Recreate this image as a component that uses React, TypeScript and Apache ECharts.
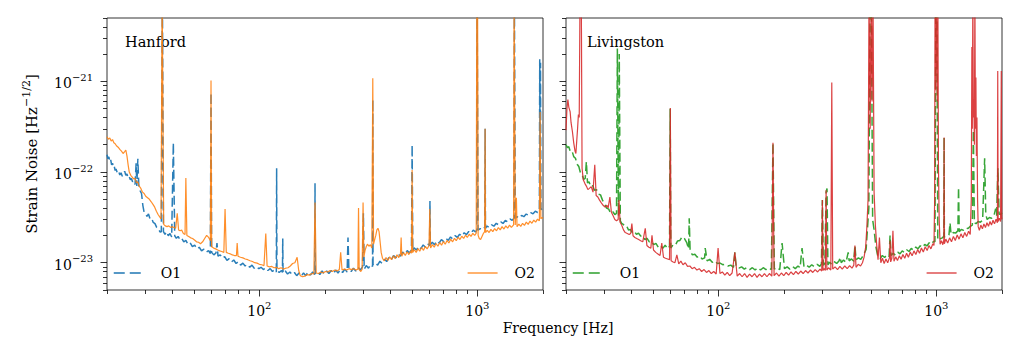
import React, { useEffect, useRef } from "react";
import * as echarts from "echarts";

// Amplitude spectral density [frequency (Hz), strain (1/sqrt(Hz))]
const hanfordO1: [number, number][] = [
  [20.0, 1.55e-22], [20.2, 1.4e-22], [20.4, 1.47e-22], [20.6, 1.3e-22], [20.8, 1.36e-22], [21.0, 1.2e-22],
  [21.2, 1.25e-22], [21.4, 1.12e-22], [21.6, 1.15e-22], [21.8, 1.04e-22], [22.0, 1.08e-22], [22.3, 9.8e-23],
  [22.6, 1.02e-22], [22.9, 9.3e-23], [23.2, 9.8e-23], [23.5, 9.0e-23], [23.8, 9.6e-23], [24.1, 1.02e-22],
  [24.4, 9.2e-23], [24.7, 9.5e-23], [25.0, 8.6e-23], [25.3, 8.9e-23], [25.6, 8.2e-23], [25.9, 8.5e-23],
  [26.2, 7.8e-23], [26.5, 8.0e-23], [26.9, 7.3e-23], [27.2, 1.25e-22], [27.4, 7.0e-23], [27.7, 1.4e-22],
  [28.0, 6.8e-23], [28.4, 6.2e-23], [28.8, 5.8e-23], [29.2, 4.3e-23], [29.6, 3.6e-23], [30.0, 3.5e-23],
  [30.5, 3.25e-23], [31.0, 3.45e-23], [31.5, 3.05e-23], [32.0, 3.1e-23], [32.6, 2.78e-23], [33.2, 2.7e-23],
  [33.8, 2.45e-23], [34.4, 2.4e-23], [35.0, 2.18e-23], [35.5, 2.2e-23], [35.9, 1e-20], [36.3, 2.2e-23],
  [36.9, 2.05e-23], [37.5, 2.2e-23], [38.2, 1.98e-23], [38.9, 2.1e-23], [39.6, 1.92e-23], [40.3, 2.1e-22],
  [40.9, 1.98e-23], [41.6, 1.86e-23], [42.4, 1.95e-23], [43.2, 1.8e-23], [44.0, 1.86e-23], [45.0, 1.7e-23],
  [46.0, 1.76e-23], [47.0, 1.6e-23], [48.1, 1.66e-23], [49.3, 1.5e-23], [50.5, 1.56e-23], [51.8, 1.42e-23],
  [53.0, 1.48e-23], [54.3, 1.35e-23], [55.6, 1.41e-23], [57.0, 1.3e-23], [58.4, 1.36e-23], [59.6, 1.26e-23],
  [60.0, 7.5e-22], [60.4, 1.3e-23], [61.8, 1.22e-23], [63.2, 1.28e-23], [63.9, 1.65e-23], [64.6, 1.18e-23],
  [66.1, 1.22e-23], [67.7, 1.12e-23], [69.3, 1.17e-23], [71.0, 1.06e-23], [72.7, 1.11e-23], [74.5, 1.02e-23],
  [76.3, 1.07e-23], [78.2, 9.8e-24], [80.1, 1.03e-23], [82.0, 9.4e-24], [84.0, 9.9e-24], [86.0, 9.2e-24],
  [88.1, 9.6e-24], [90.3, 8.9e-24], [92.5, 9.4e-24], [94.7, 8.7e-24], [97.0, 9.1e-24], [99.4, 8.6e-24],
  [101.8, 8.9e-24], [104.3, 8.4e-24], [106.8, 8.8e-24], [109.4, 8.2e-24], [112.1, 8.6e-24], [114.8, 8.0e-24],
  [117.6, 8.4e-24], [119.6, 7.9e-24], [120.0, 1.1e-22], [120.4, 8.1e-24], [123.3, 7.8e-24], [126.3, 8.2e-24],
  [127.6, 7.8e-24], [128.0, 1.85e-23], [128.4, 7.7e-24], [131.5, 8.1e-24], [134.7, 7.5e-24], [138.0, 7.9e-24],
  [141.4, 7.4e-24], [144.8, 7.8e-24], [148.3, 7.2e-24], [151.9, 7.7e-24], [155.6, 7.1e-24], [159.4, 7.7e-24],
  [163.3, 7.2e-24], [167.3, 7.9e-24], [171.4, 7.3e-24], [175.6, 7.9e-24], [179.6, 7.4e-24], [180.0, 7.5e-23],
  [180.4, 7.6e-24], [184.8, 8.0e-24], [189.3, 7.4e-24], [193.9, 8.1e-24], [198.6, 7.5e-24], [203.5, 8.1e-24],
  [208.4, 7.6e-24], [213.5, 8.2e-24], [218.7, 7.6e-24], [224.0, 8.3e-24], [229.5, 7.7e-24], [235.1, 8.4e-24],
  [240.8, 7.8e-24], [246.7, 8.5e-24], [252.7, 7.9e-24], [255.0, 1.9e-23], [257.4, 8.4e-24], [263.7, 8.0e-24],
  [270.1, 8.7e-24], [276.7, 8.1e-24], [283.4, 8.9e-24], [290.3, 8.3e-24], [297.4, 9.0e-24], [300.0, 3.5e-23],
  [302.6, 8.5e-24], [309.2, 9.3e-24], [316.7, 8.7e-24], [324.4, 9.6e-24], [330.5, 9.1e-24], [331.3, 6.3e-22],
  [332.2, 9.5e-24], [340.4, 1.0e-23], [348.7, 9.4e-24], [357.2, 1.04e-23], [365.9, 9.8e-24], [374.8, 1.09e-23],
  [383.9, 1.03e-23], [393.3, 1.15e-23], [402.8, 1.08e-23], [412.6, 1.2e-23], [422.7, 1.13e-23], [433.0, 1.25e-23],
  [443.5, 1.18e-23], [454.3, 1.31e-23], [465.4, 1.23e-23], [476.7, 1.36e-23], [488.3, 1.28e-23], [498.5, 1.38e-23],
  [502.0, 2.0e-22], [505.5, 1.34e-23], [512.4, 1.46e-23], [524.9, 1.38e-23], [537.6, 1.52e-23], [550.7, 1.43e-23],
  [564.1, 1.57e-23], [577.9, 1.48e-23], [591.9, 1.62e-23], [603.5, 1.54e-23], [606.0, 4.8e-23], [608.5, 1.58e-23],
  [621.1, 1.68e-23], [636.2, 1.58e-23], [651.7, 1.74e-23], [667.6, 1.65e-23], [683.8, 1.8e-23], [700.5, 1.71e-23],
  [717.5, 1.86e-23], [735.0, 1.76e-23], [752.9, 1.92e-23], [771.2, 1.83e-23], [790.0, 1.99e-23], [809.2, 1.9e-23],
  [828.9, 2.06e-23], [849.1, 1.96e-23], [869.8, 2.14e-23], [891.0, 2.04e-23], [912.7, 2.21e-23], [934.9, 2.11e-23],
  [957.6, 2.29e-23], [980.9, 2.18e-23], [994.0, 2.3e-23], [997.0, 1e-20], [1003.0, 1e-20], [1007.0, 2.28e-23],
  [1030.0, 2.38e-23], [1055.0, 2.3e-23], [1082.0, 2.46e-23], [1085.5, 3.0e-22], [1089.0, 2.4e-23], [1108.0, 2.54e-23],
  [1135.0, 2.44e-23], [1163.0, 2.62e-23], [1191.0, 2.53e-23], [1220.0, 2.72e-23], [1250.0, 2.62e-23], [1280.0, 2.82e-23],
  [1311.0, 2.71e-23], [1343.0, 2.92e-23], [1376.0, 2.82e-23], [1410.0, 3.04e-23], [1444.0, 2.93e-23], [1472.0, 3.1e-23],
  [1478.0, 1e-20], [1486.0, 1e-20], [1492.0, 3.1e-23], [1520.0, 3.22e-23], [1557.0, 3.1e-23], [1595.0, 3.32e-23],
  [1634.0, 3.22e-23], [1674.0, 3.44e-23], [1715.0, 3.34e-23], [1757.0, 3.57e-23], [1800.0, 3.46e-23], [1844.0, 3.7e-23],
  [1889.0, 3.58e-23], [1925.0, 3.8e-23], [1932.0, 1.75e-21], [1940.0, 3.9e-23], [1948.0, 1.6e-21], [1956.0, 3.85e-23],
  [1978.0, 3.95e-23], [2000.0, 4.0e-23],
];

const hanfordO2: [number, number][] = [
  [20.0, 2.45e-22], [20.3, 2.3e-22], [20.6, 2.38e-22], [20.9, 2.2e-22], [21.2, 2.28e-22], [21.5, 2.1e-22],
  [21.8, 2.05e-22], [22.1, 1.95e-22], [22.5, 1.88e-22], [22.9, 1.78e-22], [23.3, 1.7e-22], [23.7, 1.6e-22],
  [24.1, 1.68e-22], [24.4, 1.75e-22], [24.7, 1.5e-22], [25.0, 1.2e-22], [25.3, 1.0e-22], [25.7, 9.2e-23],
  [26.1, 8.8e-23], [26.5, 8.4e-23], [26.9, 8.5e-23], [27.3, 7.6e-23], [27.7, 7.8e-23], [28.1, 7.0e-23],
  [28.6, 6.6e-23], [29.1, 6.0e-23], [29.6, 5.8e-23], [30.1, 5.4e-23], [30.7, 5.2e-23], [31.3, 5.0e-23],
  [31.9, 4.7e-23], [32.5, 4.4e-23], [33.1, 4.1e-23], [33.7, 3.7e-23], [34.3, 3.4e-23], [34.9, 3.2e-23],
  [35.4, 3.05e-23], [35.8, 1e-20], [36.0, 1e-20], [36.4, 2.65e-23], [37.0, 2.55e-23], [37.7, 2.5e-23],
  [38.4, 2.55e-23], [39.1, 2.45e-23], [39.8, 2.5e-23], [40.5, 2.45e-23], [41.3, 2.4e-23], [42.0, 3.5e-23],
  [42.6, 2.3e-23], [43.3, 2.25e-23], [44.0, 2.3e-23], [44.8, 2.1e-23], [45.6, 2.05e-23], [46.0, 8.6e-23],
  [46.5, 2.0e-23], [47.4, 1.95e-23], [48.4, 1.88e-23], [49.4, 1.85e-23], [50.4, 1.78e-23], [51.5, 1.7e-23],
  [52.6, 1.68e-23], [53.7, 1.62e-23], [54.9, 1.7e-23], [56.1, 1.85e-23], [57.3, 2.0e-23], [58.5, 1.9e-23],
  [59.6, 1.75e-23], [60.0, 1.02e-21], [60.4, 1.5e-23], [61.7, 1.45e-23], [63.0, 1.42e-23], [64.4, 1.38e-23],
  [65.8, 1.35e-23], [67.2, 1.33e-23], [68.7, 1.3e-23], [69.6, 3.9e-23], [70.5, 1.3e-23], [72.0, 1.27e-23],
  [73.6, 1.25e-23], [75.2, 1.22e-23], [76.8, 1.2e-23], [78.5, 1.2e-23], [79.1, 1.65e-23], [79.8, 1.18e-23],
  [81.9, 1.15e-23], [84.0, 1.13e-23], [86.2, 1.1e-23], [88.4, 1.08e-23], [90.6, 1.05e-23], [92.9, 1.03e-23],
  [95.2, 1.0e-23], [97.6, 9.9e-24], [100.0, 9.6e-24], [102.5, 9.5e-24], [105.0, 9.3e-24], [107.0, 2.1e-23],
  [108.5, 9.2e-24], [111.2, 9.0e-24], [114.0, 9.1e-24], [116.8, 8.8e-24], [119.7, 8.9e-24], [122.7, 8.6e-24],
  [125.7, 8.8e-24], [128.8, 8.5e-24], [132.0, 8.7e-24], [135.3, 8.8e-24], [138.6, 9.2e-24], [142.0, 9.8e-24],
  [145.5, 1.0e-23], [149.0, 1.15e-23], [151.5, 8.2e-24], [154.0, 7.2e-24], [157.8, 7.0e-24], [161.7, 7.1e-24],
  [165.7, 7.4e-24], [169.8, 7.3e-24], [174.0, 7.6e-24], [177.8, 7.5e-24], [180.0, 4.6e-23], [182.2, 7.7e-24],
  [186.7, 7.6e-24], [191.3, 7.9e-24], [196.0, 7.7e-24], [200.9, 8.0e-24], [205.9, 7.9e-24], [211.0, 8.2e-24],
  [216.2, 8.0e-24], [221.6, 8.3e-24], [227.1, 8.1e-24], [232.7, 8.4e-24], [236.0, 1.3e-23], [239.5, 8.3e-24],
  [245.5, 8.5e-24], [251.6, 8.3e-24], [257.8, 8.6e-24], [264.2, 8.4e-24], [270.7, 8.6e-24], [277.4, 8.3e-24],
  [283.0, 8.5e-24], [285.0, 4.0e-23], [287.0, 8.4e-24], [292.0, 8.0e-24], [296.0, 8.5e-24], [299.0, 4.6e-23],
  [301.5, 1.15e-23], [305.0, 1.35e-23], [309.0, 1.5e-23], [313.0, 1.6e-23], [318.0, 1.52e-23], [323.0, 1.58e-23],
  [328.0, 1.45e-23], [331.3, 1.08e-21], [334.0, 1.6e-23], [338.0, 1.8e-23], [342.0, 2.0e-23], [346.0, 2.3e-23],
  [350.0, 2.4e-23], [354.0, 2.2e-23], [358.0, 1.7e-23], [362.0, 1.3e-23], [367.0, 1.12e-23], [374.0, 1.05e-23],
  [381.0, 1.14e-23], [388.0, 1.06e-23], [396.0, 1.16e-23], [404.0, 1.08e-23], [412.0, 1.19e-23], [420.0, 1.11e-23],
  [428.0, 1.22e-23], [436.0, 1.14e-23], [444.0, 1.26e-23], [447.0, 1.9e-23], [450.0, 1.18e-23], [458.0, 1.29e-23],
  [467.0, 1.2e-23], [476.0, 1.32e-23], [485.0, 1.23e-23], [494.0, 1.35e-23], [499.0, 1.27e-23], [502.0, 1.05e-22],
  [505.0, 1.3e-23], [514.0, 1.39e-23], [524.0, 1.3e-23], [534.0, 1.43e-23], [544.0, 1.34e-23], [555.0, 1.47e-23],
  [566.0, 1.37e-23], [577.0, 1.51e-23], [588.0, 1.42e-23], [600.0, 1.54e-23], [605.0, 3.9e-23], [610.0, 1.45e-23],
  [622.0, 1.58e-23], [634.0, 1.48e-23], [646.0, 1.63e-23], [659.0, 1.52e-23], [672.0, 1.67e-23], [685.0, 1.56e-23],
  [698.0, 1.71e-23], [712.0, 1.6e-23], [726.0, 1.76e-23], [740.0, 1.65e-23], [755.0, 1.81e-23], [770.0, 1.7e-23],
  [785.0, 1.86e-23], [800.0, 1.75e-23], [816.0, 1.91e-23], [832.0, 1.8e-23], [848.0, 1.96e-23], [865.0, 1.85e-23],
  [882.0, 2.01e-23], [899.0, 1.9e-23], [917.0, 2.06e-23], [935.0, 1.95e-23], [953.0, 2.11e-23], [972.0, 2.0e-23],
  [988.0, 2.12e-23], [994.0, 1e-20], [1002.0, 1e-20], [1008.0, 2.0e-23], [1020.0, 1.85e-23], [1035.0, 1.8e-23],
  [1050.0, 1.95e-23], [1065.0, 2.1e-23], [1080.0, 2.2e-23], [1085.0, 3.0e-22], [1090.0, 2.15e-23], [1110.0, 2.28e-23],
  [1132.0, 2.15e-23], [1154.0, 2.33e-23], [1177.0, 2.2e-23], [1200.0, 2.38e-23], [1224.0, 2.25e-23], [1248.0, 2.44e-23],
  [1273.0, 2.3e-23], [1298.0, 2.5e-23], [1324.0, 2.35e-23], [1350.0, 2.55e-23], [1377.0, 2.4e-23], [1404.0, 2.6e-23],
  [1432.0, 2.45e-23], [1466.0, 2.62e-23], [1474.0, 1e-20], [1484.0, 1e-20], [1492.0, 2.6e-23], [1510.0, 5.2e-23],
  [1520.0, 2.5e-23], [1550.0, 2.66e-23], [1581.0, 2.52e-23], [1612.0, 2.72e-23], [1644.0, 2.58e-23], [1677.0, 2.8e-23],
  [1710.0, 2.65e-23], [1744.0, 2.88e-23], [1779.0, 2.72e-23], [1814.0, 2.95e-23], [1850.0, 2.8e-23], [1887.0, 3.02e-23],
  [1925.0, 2.9e-23], [1940.0, 4.6e-22], [1955.0, 3.05e-23], [1978.0, 3.15e-23], [2000.0, 3.1e-23],
];

const livingstonO1: [number, number][] = [
  [20.0, 2.0e-22], [20.3, 1.86e-22], [20.6, 1.9e-22], [20.9, 1.7e-22], [21.3, 1.72e-22], [21.7, 1.48e-22],
  [22.1, 1.42e-22], [22.5, 1.22e-22], [22.9, 1.15e-22], [23.3, 9.8e-23], [23.7, 9.4e-23], [24.1, 8.3e-23],
  [24.5, 8.5e-23], [24.8, 1.3e-22], [25.1, 7.6e-23], [25.5, 7.8e-23], [26.0, 6.9e-23], [26.5, 7.1e-23],
  [27.0, 6.3e-23], [27.6, 6.4e-23], [28.2, 5.7e-23], [28.8, 5.6e-23], [29.4, 4.9e-23], [30.0, 4.5e-23],
  [30.7, 4.0e-23], [31.4, 3.9e-23], [32.1, 3.5e-23], [32.8, 3.65e-23], [33.5, 3.4e-23], [34.1, 3.5e-23],
  [34.4, 2.3e-21], [34.8, 3.3e-23], [35.1, 2.0e-21], [35.5, 2.9e-23], [36.0, 2.72e-23], [36.6, 2.65e-23],
  [37.3, 2.5e-23], [38.0, 2.52e-23], [38.7, 2.3e-23], [39.5, 2.32e-23], [40.3, 2.15e-23], [41.2, 2.22e-23],
  [42.1, 2.05e-23], [43.0, 2.12e-23], [44.0, 1.97e-23], [45.0, 1.98e-23], [46.0, 1.8e-23], [47.1, 1.86e-23],
  [48.2, 1.7e-23], [49.3, 1.74e-23], [50.5, 1.58e-23], [51.7, 1.63e-23], [53.0, 1.48e-23], [54.3, 1.55e-23],
  [55.6, 1.44e-23], [57.0, 1.56e-23], [58.5, 1.42e-23], [59.7, 1.52e-23], [60.1, 5.0e-22], [60.5, 1.45e-23],
  [62.0, 1.58e-23], [63.5, 1.56e-23], [65.0, 1.74e-23], [66.6, 1.76e-23], [68.2, 1.94e-23], [69.8, 1.85e-23],
  [71.5, 1.68e-23], [73.0, 1.42e-23], [73.5, 3.1e-23], [74.2, 1.35e-23], [76.0, 1.22e-23], [78.0, 1.24e-23],
  [80.0, 1.15e-23], [82.0, 1.19e-23], [84.2, 1.1e-23], [86.5, 1.13e-23], [87.0, 1.45e-23], [88.8, 1.05e-23],
  [91.2, 1.09e-23], [93.7, 1.01e-23], [96.3, 1.05e-23], [99.0, 9.8e-24], [101.8, 9.9e-24], [104.7, 9.5e-24],
  [107.7, 9.6e-24], [110.8, 9.2e-24], [114.0, 9.4e-24], [117.3, 8.9e-24], [119.0, 1.3e-23], [120.7, 9.1e-24],
  [124.2, 8.7e-24], [127.8, 9.0e-24], [131.5, 8.5e-24], [135.3, 8.9e-24], [139.2, 8.4e-24], [143.2, 8.8e-24],
  [147.4, 8.3e-24], [151.7, 8.8e-24], [156.1, 8.3e-24], [160.6, 8.8e-24], [165.3, 8.4e-24], [170.1, 8.8e-24],
  [175.0, 8.4e-24], [178.0, 2.1e-22], [180.6, 8.5e-24], [185.8, 8.9e-24], [191.2, 8.4e-24], [196.0, 1.65e-23],
  [201.0, 8.6e-24], [206.8, 9.0e-24], [212.8, 8.5e-24], [219.0, 9.1e-24], [225.3, 8.6e-24], [231.8, 9.2e-24],
  [237.0, 8.8e-24], [242.0, 1.45e-23], [247.0, 9.0e-24], [254.0, 9.4e-24], [261.0, 8.9e-24], [268.0, 9.5e-24],
  [276.0, 9.0e-24], [284.0, 9.6e-24], [292.0, 9.1e-24], [297.0, 9.7e-24], [300.0, 4.9e-23], [303.0, 9.4e-24],
  [308.0, 9.8e-24], [312.0, 6.0e-23], [315.0, 6.6e-23], [318.0, 9.5e-24], [324.0, 1.01e-23], [331.0, 9.6e-24],
  [340.0, 1.03e-23], [349.0, 9.8e-24], [358.0, 1.05e-23], [362.0, 1.15e-23], [366.0, 1.0e-23], [375.0, 1.07e-23],
  [385.0, 1.01e-23], [394.0, 1.3e-23], [398.0, 1.05e-23], [408.0, 1.1e-23], [418.0, 1.04e-23], [423.0, 1.55e-23],
  [428.0, 1.08e-23], [439.0, 1.13e-23], [450.0, 1.09e-23], [462.0, 1.2e-23], [476.0, 1.4e-23], [490.0, 4e-23],
  [497.0, 1e-20], [503.0, 1e-20], [510.0, 3e-23], [518.0, 2.3e-23], [528.0, 1.5e-23], [540.0, 1.15e-23],
  [552.0, 1.11e-23], [565.0, 1.2e-23], [579.0, 1.14e-23], [593.0, 1.23e-23], [607.0, 1.17e-23], [613.0, 2.0e-23],
  [619.0, 1.2e-23], [634.0, 1.27e-23], [649.0, 1.21e-23], [665.0, 1.31e-23], [681.0, 1.25e-23], [697.0, 1.35e-23],
  [714.0, 1.29e-23], [731.0, 1.39e-23], [749.0, 1.33e-23], [767.0, 1.44e-23], [785.0, 1.37e-23], [804.0, 1.49e-23],
  [823.0, 1.42e-23], [843.0, 1.54e-23], [863.0, 1.47e-23], [884.0, 1.59e-23], [905.0, 1.53e-23], [927.0, 1.66e-23],
  [949.0, 1.59e-23], [970.0, 1.72e-23], [985.0, 1.7e-23], [995.0, 1e-20], [1005.0, 1e-20], [1015.0, 1.78e-23],
  [1040.0, 1.84e-23], [1065.0, 1.88e-23], [1082.0, 1.95e-23], [1085.0, 2.4e-22], [1088.0, 1.92e-23], [1115.0, 2.0e-23],
  [1142.0, 2.02e-23], [1155.0, 2.75e-23], [1168.0, 2.05e-23], [1196.0, 2.15e-23], [1225.0, 2.12e-23], [1255.0, 2.25e-23],
  [1264.0, 6.8e-23], [1273.0, 2.2e-23], [1300.0, 2.32e-23], [1332.0, 2.28e-23], [1364.0, 2.42e-23], [1397.0, 2.38e-23],
  [1431.0, 2.52e-23], [1462.0, 2.6e-23], [1478.0, 2.9e-22], [1494.0, 2.75e-23], [1520.0, 2.7e-23], [1555.0, 2.85e-23],
  [1592.0, 2.8e-23], [1630.0, 2.95e-23], [1665.0, 1.42e-22], [1685.0, 3.4e-23], [1710.0, 3.0e-23], [1750.0, 3.15e-23],
  [1792.0, 3.1e-23], [1835.0, 3.25e-23], [1870.0, 3.95e-23], [1890.0, 3.3e-23], [1915.0, 1.1e-22], [1940.0, 3.45e-23],
  [1970.0, 3.4e-23], [2000.0, 3.55e-23],
];

const livingstonO2: [number, number][] = [
  [20.0, 2.9e-22], [20.2, 5.0e-22], [20.4, 6.3e-22], [20.6, 5.2e-22], [20.9, 4.6e-22], [21.1, 3.5e-22],
  [21.4, 2.8e-22], [21.7, 2.1e-22], [22.0, 1.7e-22], [22.2, 1.6e-22], [22.4, 2.2e-22], [22.6, 3.0e-22],
  [22.8, 4.3e-22], [23.0, 4.0e-22], [23.2, 1e-20], [23.5, 1e-20], [23.7, 1.1e-22], [24.0, 8.2e-23],
  [24.4, 7.5e-23], [24.8, 7.0e-23], [25.2, 6.4e-23], [25.6, 6.6e-23], [26.1, 6.9e-23], [26.6, 6.0e-23],
  [27.1, 1.2e-22], [27.5, 5.5e-23], [28.0, 5.3e-23], [28.5, 4.9e-23], [29.0, 4.6e-23], [29.6, 4.3e-23],
  [30.2, 4.1e-23], [30.8, 4.3e-23], [31.2, 4.0e-23], [31.8, 5.3e-23], [32.3, 3.6e-23], [32.9, 3.3e-23],
  [33.5, 3.0e-23], [34.1, 2.9e-23], [34.7, 3.0e-23], [35.0, 4.9e-23], [35.4, 2.8e-23], [36.0, 2.6e-23],
  [36.7, 2.3e-23], [37.4, 2.15e-23], [38.2, 2.1e-23], [39.0, 2.05e-23], [39.6, 2.1e-23], [40.1, 2.7e-23],
  [40.6, 1.98e-23], [41.4, 1.9e-23], [42.2, 1.85e-23], [43.1, 1.8e-23], [44.0, 1.75e-23], [45.0, 1.7e-23],
  [46.2, 2.4e-23], [47.0, 1.55e-23], [48.0, 1.48e-23], [49.0, 1.45e-23], [49.6, 2.0e-23], [50.4, 1.38e-23],
  [51.6, 1.3e-23], [52.8, 1.25e-23], [54.0, 1.2e-23], [55.0, 1.65e-23], [56.0, 1.15e-23], [57.2, 1.12e-23],
  [58.5, 1.1e-23], [59.7, 1.08e-23], [60.2, 5.1e-22], [60.7, 1.05e-23], [62.0, 1.02e-23], [63.2, 1.0e-23],
  [64.5, 1.22e-23], [65.8, 9.7e-24], [67.3, 1.04e-23], [68.8, 9.5e-24], [70.5, 1.0e-23], [72.2, 9.1e-24],
  [74.0, 9.2e-24], [75.8, 8.6e-24], [77.7, 8.9e-24], [79.7, 8.3e-24], [81.7, 8.6e-24], [83.8, 8.0e-24],
  [86.0, 8.4e-24], [88.2, 7.8e-24], [90.5, 8.2e-24], [92.8, 7.6e-24], [95.2, 8.0e-24], [97.7, 7.5e-24],
  [99.7, 1.45e-23], [101.7, 7.6e-24], [104.3, 7.9e-24], [107.0, 7.3e-24], [109.8, 7.8e-24], [112.7, 7.2e-24],
  [115.6, 7.7e-24], [119.0, 1.3e-23], [122.0, 7.1e-24], [125.2, 7.6e-24], [128.5, 7.0e-24], [131.9, 7.6e-24],
  [135.4, 6.9e-24], [139.0, 7.5e-24], [142.7, 7.0e-24], [146.5, 7.6e-24], [150.4, 6.9e-24], [154.4, 7.5e-24],
  [158.5, 7.0e-24], [162.7, 7.6e-24], [167.0, 7.0e-24], [171.4, 7.6e-24], [175.9, 7.1e-24], [178.0, 2.1e-22],
  [180.1, 7.2e-24], [184.8, 7.7e-24], [189.6, 7.1e-24], [194.5, 7.7e-24], [199.5, 7.2e-24], [204.7, 7.8e-24],
  [210.0, 7.3e-24], [215.4, 7.9e-24], [221.0, 7.4e-24], [226.7, 8.0e-24], [232.6, 7.5e-24], [238.6, 8.1e-24],
  [244.8, 7.6e-24], [251.1, 8.2e-24], [257.6, 7.7e-24], [264.3, 8.3e-24], [271.1, 7.8e-24], [278.1, 8.4e-24],
  [285.3, 7.9e-24], [292.7, 8.5e-24], [298.0, 8.1e-24], [300.0, 4.9e-23], [302.0, 8.2e-24], [306.0, 8.6e-24],
  [309.5, 8.2e-24], [312.0, 6.3e-23], [314.5, 8.3e-24], [320.0, 8.8e-24], [328.0, 8.3e-24], [331.3, 9.7e-22],
  [334.5, 8.5e-24], [343.0, 9.0e-24], [352.0, 8.4e-24], [361.0, 9.1e-24], [370.0, 8.5e-24], [380.0, 9.2e-24],
  [390.0, 8.6e-24], [400.0, 9.3e-24], [410.0, 8.7e-24], [418.0, 9.4e-24], [423.0, 1.55e-23], [428.0, 8.9e-24],
  [438.0, 9.6e-24], [449.0, 9.2e-24], [458.0, 1.0e-23], [466.0, 1.15e-23], [474.0, 1.5e-23], [480.0, 2.5e-23],
  [486.0, 5e-23], [491.0, 1e-20], [497.0, 3e-22], [502.0, 1e-20], [507.0, 6e-22], [512.0, 1e-20],
  [518.0, 6e-23], [525.0, 2.6e-23], [532.0, 1.6e-23], [540.0, 1.08e-23], [548.0, 1.9e-23], [556.0, 1.0e-23],
  [566.0, 1.12e-23], [576.0, 9.8e-24], [587.0, 1.1e-23], [598.0, 1.0e-23], [609.0, 1.13e-23], [613.0, 1.75e-23],
  [617.0, 1.02e-23], [625.0, 1.12e-23], [632.0, 2.25e-23], [639.0, 1.04e-23], [651.0, 1.16e-23], [663.0, 1.06e-23],
  [676.0, 1.19e-23], [689.0, 1.09e-23], [702.0, 1.23e-23], [716.0, 1.12e-23], [730.0, 1.27e-23], [744.0, 1.15e-23],
  [759.0, 1.31e-23], [774.0, 1.19e-23], [789.0, 1.35e-23], [805.0, 1.23e-23], [821.0, 1.4e-23], [837.0, 1.27e-23],
  [854.0, 1.45e-23], [871.0, 1.31e-23], [889.0, 1.5e-23], [907.0, 1.36e-23], [925.0, 1.55e-23], [944.0, 1.42e-23],
  [963.0, 1.62e-23], [975.0, 1.55e-23], [982.0, 5e-23], [986.0, 1e-20], [992.0, 8e-22], [998.0, 1e-20],
  [1004.0, 1e-20], [1010.0, 6e-22], [1016.0, 1e-20], [1022.0, 1.2e-22], [1030.0, 3e-23], [1040.0, 1.6e-23],
  [1055.0, 1.75e-23], [1070.0, 1.58e-23], [1082.0, 1.78e-23], [1085.0, 2.4e-22], [1088.0, 1.62e-23], [1105.0, 1.82e-23],
  [1127.0, 1.65e-23], [1150.0, 1.88e-23], [1173.0, 1.7e-23], [1197.0, 1.95e-23], [1221.0, 1.76e-23], [1246.0, 2.02e-23],
  [1271.0, 1.82e-23], [1297.0, 2.08e-23], [1323.0, 1.88e-23], [1350.0, 2.15e-23], [1377.0, 1.95e-23], [1405.0, 2.22e-23],
  [1430.0, 2.05e-23], [1446.0, 5e-23], [1455.0, 2.4e-21], [1462.0, 3e-22], [1470.0, 1e-20], [1478.0, 4e-22],
  [1486.0, 6.3e-22], [1494.0, 2e-22], [1502.0, 1e-20], [1510.0, 3e-22], [1518.0, 1.1e-21], [1526.0, 1.5e-22],
  [1535.0, 4e-22], [1545.0, 5e-23], [1555.0, 2.5e-23], [1575.0, 2.28e-23], [1600.0, 2.6e-23], [1626.0, 2.36e-23],
  [1652.0, 2.68e-23], [1679.0, 2.44e-23], [1706.0, 2.76e-23], [1734.0, 2.52e-23], [1762.0, 2.85e-23], [1790.0, 2.6e-23],
  [1819.0, 2.94e-23], [1848.0, 2.68e-23], [1878.0, 3.02e-23], [1905.0, 2.76e-23], [1912.0, 1.3e-21], [1920.0, 2.85e-23],
  [1945.0, 3.1e-23], [1970.0, 2.85e-23], [1985.0, 1.3e-21], [1993.0, 3.0e-23], [2000.0, 3.15e-23],
];

// Axis ranges and tick positions
const freqRange = [20, 2000];
const strainRange = [5e-24, 5e-21];
const freqMajorTicks = [100, 1000];
const freqMinorTicks = [20, 30, 40, 50, 60, 70, 80, 90, 200, 300, 400, 500, 600, 700, 800, 900, 2000];
const strainMajorTicks = [1e-23, 1e-22, 1e-21];
const strainMinorTicks = [
  5e-24, 6e-24, 7e-24, 8e-24, 9e-24,
  2e-23, 3e-23, 4e-23, 5e-23, 6e-23, 7e-23, 8e-23, 9e-23,
  2e-22, 3e-22, 4e-22, 5e-22, 6e-22, 7e-22, 8e-22, 9e-22,
  2e-21, 3e-21, 4e-21, 5e-21,
];

const detectors = ["Hanford", "Livingston"];
const runs = ["O1", "O2"];
const colors = {
  Hanford: ["#1f77b4", "#ff7f0e"],
  Livingston: ["#2ca02c", "#d62728"],
};
const spectra = {
  Hanford: [hanfordO1, hanfordO2],
  Livingston: [livingstonO1, livingstonO2],
};

const FONT = '"DejaVu Serif", serif';
const BLACK = "#000";

// Strain spans many decades below 1; the vertical axis works on log10 of it.
const lg = (v: number) => Math.log10(v);

function richText(size: number) {
  return {
    b: { fontFamily: FONT, fontSize: size, lineHeight: size + 4, verticalAlign: "bottom", color: BLACK },
    s: { fontFamily: FONT, fontSize: size - 4, lineHeight: size - 4, verticalAlign: "top", color: BLACK },
  };
}

function powerLabel(exponent: number) {
  const e = Math.round(exponent);
  const exp = e < 0 ? "\u2212" + -e : String(e);
  return `{b|10}{s|${exp}}`;
}

const grids = [
  { left: 107, top: 18, width: 436, height: 272 },
  { left: 566, top: 18, width: 436, height: 272 },
];

function tickStyle(length: number) {
  return { show: true, length, lineStyle: { color: BLACK, width: 0.8 } };
}

function makeXAxes(gridIndex: number) {
  const base = {
    type: "log",
    logBase: 10,
    gridIndex,
    position: "bottom",
    offset: 0,
    min: freqRange[0],
    max: freqRange[1],
    axisLine: { show: false },
    splitLine: { show: false },
  };
  return [
    {
      ...base,
      axisTick: { ...tickStyle(6.5), customValues: freqMajorTicks },
      axisLabel: {
        customValues: freqMajorTicks,
        formatter: (v: number) => powerLabel(Math.log10(v)),
        rich: richText(14),
        margin: 10,
      },
    },
    {
      ...base,
      axisTick: { ...tickStyle(4), customValues: freqMinorTicks },
      axisLabel: { show: false },
    },
  ];
}

function makeYAxes(gridIndex: number, showLabels: boolean) {
  const base = {
    type: "value",
    gridIndex,
    position: "left",
    offset: 0,
    min: lg(strainRange[0]),
    max: lg(strainRange[1]),
    axisLine: { show: false },
    splitLine: { show: false },
  };
  const major = strainMajorTicks.map(lg);
  return [
    {
      ...base,
      axisTick: { ...tickStyle(6.5), customValues: major },
      axisLabel: showLabels
        ? { customValues: major, formatter: powerLabel, rich: richText(14), margin: 14 }
        : { show: false },
    },
    {
      ...base,
      axisTick: { ...tickStyle(4), customValues: strainMinorTicks.map(lg) },
      axisLabel: { show: false },
    },
  ];
}

function buildOption() {
  const xAxis: any[] = [];
  const yAxis: any[] = [];
  const series: any[] = [];
  const legend: any[] = [];

  detectors.forEach((det, g) => {
    xAxis.push(...makeXAxes(g));
    yAxis.push(...makeYAxes(g, g === 0));
    runs.forEach((run, r) => {
      const name = `${det} ${run}`;
      const dashed = r === 0;
      const width = dashed ? 1.5 : 1.2;
      series.push({
        name,
        type: "line",
        xAxisIndex: g * 2,
        yAxisIndex: g * 2,
        data: spectra[det][r].map(([f, h]) => [f, lg(h)]),
        symbol: "none",
        clip: true,
        z: 2 + r,
        lineStyle: {
          color: colors[det][r],
          width,
          type: dashed ? [9, 4] : "solid",
          opacity: dashed ? 0.95 : 0.88,
        },
        itemStyle: { color: colors[det][r] },
      });
      const gridLeft = grids[g].left;
      legend.push({
        data: [name],
        left: r === 0 ? gridLeft + 6 : gridLeft + 360,
        top: 266,
        padding: 0,
        itemWidth: 30,
        itemHeight: 14,
        selectedMode: false,
        formatter: () => run,
        itemStyle: { opacity: 0 },
        lineStyle: { width, type: dashed ? [11, 5] : "solid", opacity: 1 },
        textStyle: { fontFamily: FONT, fontSize: 14, color: BLACK, padding: [0, 0, 0, 12] },
      });
    });
  });

  const graphic = [
    {
      type: "text",
      x: 125,
      y: 42,
      style: { text: "Hanford", fontFamily: FONT, fontSize: 14.5, fill: BLACK, align: "left", verticalAlign: "middle" },
    },
    {
      type: "text",
      x: 587,
      y: 42,
      style: { text: "Livingston", fontFamily: FONT, fontSize: 14.5, fill: BLACK, align: "left", verticalAlign: "middle" },
    },
    {
      type: "text",
      x: 558,
      y: 328,
      style: { text: "Frequency [Hz]", fontFamily: FONT, fontSize: 14, fill: BLACK, align: "center", verticalAlign: "middle" },
    },
    {
      type: "text",
      x: 30,
      y: 154,
      rotation: Math.PI / 2,
      style: {
        text: "{b|Strain Noise [Hz}{s|\u22121/2}{b|]}",
        rich: richText(15),
        fontFamily: FONT,
        fontSize: 15,
        fill: BLACK,
        align: "center",
        verticalAlign: "middle",
      },
    },
  ];

  return {
    animation: false,
    backgroundColor: "#fff",
    textStyle: { fontFamily: FONT },
    grid: grids.map((g) => ({ ...g, show: true, borderColor: BLACK, borderWidth: 0.8, backgroundColor: "transparent" })),
    xAxis,
    yAxis,
    legend,
    series,
    graphic,
  };
}

export default function App() {
  const ref = useRef<HTMLDivElement>(null);
  useEffect(() => {
    if (!ref.current) return;
    const chart = echarts.init(ref.current, null, { renderer: "svg" });
    chart.setOption(buildOption() as any);
    return () => chart.dispose();
  }, []);
  return (
    <div
      ref={ref}
      style={{ position: "fixed", left: 0, top: 0, width: 1022, height: 341, background: "#fff" }}
    />
  );
}
